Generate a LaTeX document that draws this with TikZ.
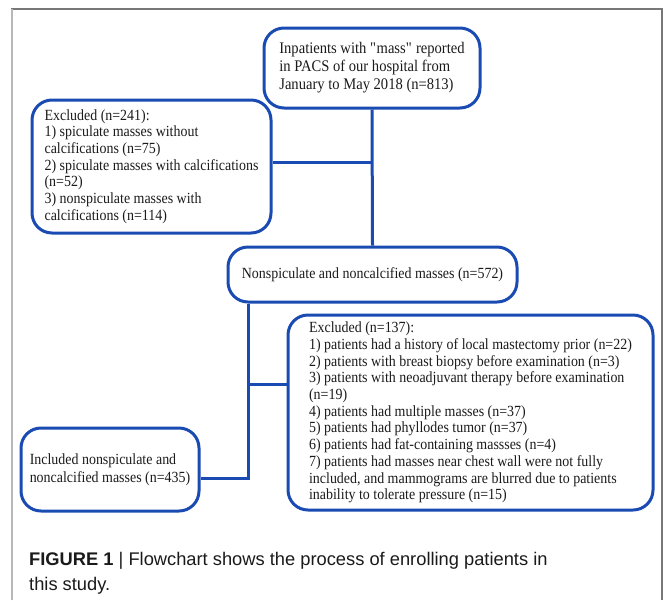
\documentclass[tikz,border=0pt]{standalone}
\usepackage{fontspec}
\setmainfont{Liberation Serif}[FakeStretch=0.90]
\setsansfont{Liberation Sans}
\usepackage{xcolor}
\usetikzlibrary{positioning, calc}
\definecolor{flowblue}{HTML}{1A4BB3}
\definecolor{framegray}{HTML}{777777}
\definecolor{edgegray}{HTML}{B8B8B8}
\definecolor{dark}{HTML}{1A1A1A}
\tikzset{
    % Rounded box style
    stage/.style={
        rectangle,
        rounded corners=20pt,
        draw=flowblue,
        line width=3pt,
        align=left,
        inner sep=0pt,
        text=dark,
        font=\fontsize{15.5}{16.7}\selectfont
    },
    % Connector style
    link/.style={
        draw=flowblue,
        line width=3pt
    },
    % Caption style
    caption text/.style={
        font=\fontsize{18.3}{25}\selectfont\sffamily,
        text=dark,
        align=left,
        inner sep=0pt
    }
}
\begin{document}
\begin{tikzpicture}[x=1pt, y=-1pt]
    \useasboundingbox (0,0) rectangle (663,600);

    % Frame
    \draw[framegray, line width=1.2pt] (12,600) -- (12,9) -- (662,9) -- (662,600);
    \draw[edgegray, line width=1.6pt] (12,9) -- (12,600);

    % Boxes
    \node[stage, minimum width=216pt, minimum height=80pt, font=\fontsize{16.2}{18}\selectfont] (start) at (372,68)
        {Inpatients with \textquotedbl mass\textquotedbl{} reported\\in PACS of our hospital from\\January to May 2018 (n=813)};
    \node[stage, minimum width=239pt, minimum height=133pt] (excl1) at (151.5,166.5)
        {Excluded (n=241):\\1) spiculate masses without\\calcifications (n=75)\\2) spiculate masses with calcifications\\(n=52)\\3) nonspiculate masses with\\calcifications (n=114)};
    \node[stage, minimum width=289pt, minimum height=55pt] (mid) at (372.5,274.5)
        {Nonspiculate and noncalcified masses (n=572)};
    \node[stage, minimum width=365pt, minimum height=195pt] (excl2) at (470.5,412.5)
        {Excluded (n=137):\\1) patients had a history of local mastectomy prior (n=22)\\2) patients with breast biopsy before examination (n=3)\\3) patients with neoadjuvant therapy before examination\\(n=19)\\4) patients had multiple masses (n=37)\\5) patients had phyllodes tumor (n=37)\\6) patients had fat-containing massses (n=4)\\7) patients had masses near chest wall were not fully\\included, and mammograms are blurred due to patients\\inability to tolerate pressure (n=15)};
    \node[stage, minimum width=178pt, minimum height=83pt, font=\fontsize{15.5}{17.7}\selectfont] (incl) at (110,469.5)
        {Included nonspiculate and\\noncalcified masses (n=435)};

    % Connections
    \coordinate (j1) at (start.south |- 0,162);
    \coordinate (split) at ([xshift=22pt]mid.south west);
    \coordinate (j2) at (split |- 0,384);
    \coordinate (j3) at (split |- 0,478);
    \draw[link] (start.south) -- (mid.north);
    \draw[link] (excl1.east |- j1) -- (j1);
    \draw[link] (split) -- (j3) -- (incl.east |- j3);
    \draw[link] (j2) -- (excl2.west |- j2);

    % Caption
    \node[caption text, anchor=west] (cap) at (29,573)
        {\textbf{FIGURE 1} | Flowchart shows the process of enrolling patients in\\this study.};
\end{tikzpicture}
\end{document}
